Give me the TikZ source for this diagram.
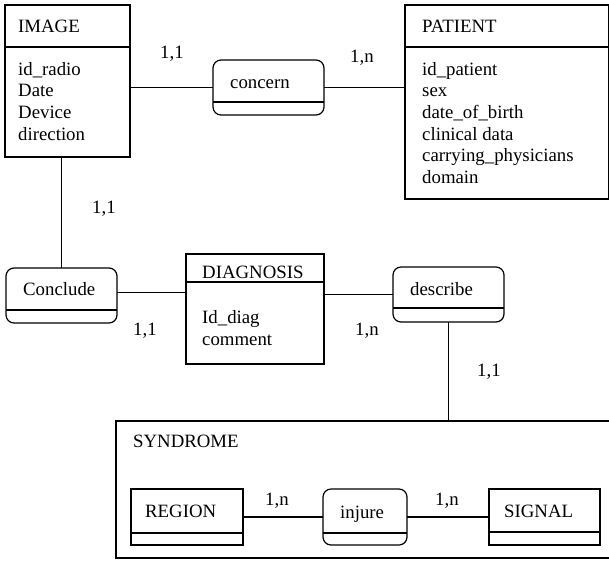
\documentclass[tikz,border=0pt]{standalone}
\usepackage{fontspec}
\setmainfont{Liberation Serif}
\begin{document}
\begin{tikzpicture}[x=1pt,y=-1pt,
  ent/.style={draw, line width=1.2pt, inner sep=0pt, outer sep=0pt, anchor=north west},
  rel/.style={draw, line width=1.2pt, rounded corners=8pt, inner sep=0pt, outer sep=0pt, anchor=north west},
  link/.style={line width=1.1pt},
  divider/.style={line width=1.2pt},
  txt/.style={anchor=base west, inner sep=0pt, font=\fontsize{18.8}{21.7}\selectfont},
]
\useasboundingbox (0,0) rectangle (609,560);

% entity and relationship boxes
\node[ent, minimum width=125pt, minimum height=152pt] (image) at (5,5) {};
\node[ent, minimum width=203.5pt, minimum height=194pt] (patient) at (405,5) {};
\node[rel, minimum width=111pt, minimum height=55pt] (concern) at (213,60) {};
\node[rel, minimum width=111pt, minimum height=55pt] (conclude) at (6,268) {};
\node[ent, minimum width=138pt, minimum height=110pt] (diag) at (186,254) {};
\node[rel, minimum width=111pt, minimum height=55pt] (describe) at (393,267) {};
\node[ent, minimum width=500pt, minimum height=137pt] (syn) at (116,421) {};
\node[ent, minimum width=112pt, minimum height=56pt] (region) at (131,489) {};
\node[rel, minimum width=84pt, minimum height=56pt] (injure) at (323,489) {};
\node[ent, minimum width=111pt, minimum height=56pt] (signal) at (489,489) {};

% dividers
\draw[divider] (image.west |- 0,47) -- (image.east |- 0,47);
\draw[divider] (patient.west |- 0,47) -- (patient.east |- 0,47);
\draw[divider] (concern.west |- 0,102) -- (concern.east |- 0,102);
\draw[divider] (conclude.west |- 0,310) -- (conclude.east |- 0,310);
\draw[divider] (diag.west |- 0,282) -- (diag.east |- 0,282);
\draw[divider] (describe.west |- 0,308) -- (describe.east |- 0,308);
\draw[divider] (region.west |- 0,533) -- (region.east |- 0,533);
\draw[divider] (injure.west |- 0,533) -- (injure.east |- 0,533);
\draw[divider] (signal.west |- 0,532) -- (signal.east |- 0,532);

% connectors
\draw[link] (image.east |- concern.west) -- (concern.west);
\draw[link] (concern.east) -- (concern.east -| patient.west);
\draw[link] (image.south -| conclude.north) -- (conclude.north);
\draw[link] ([yshift=3pt]conclude.east) -- ([yshift=3pt]conclude.east -| diag.west);
\draw[link] (diag.east |- describe.west) -- (describe.west);
\draw[link] (describe.south) -- (describe.south |- syn.north);
\draw[link] (region.east) -- (injure.west);
\draw[link] (injure.east) -- (signal.west);

% texts
\node[txt] (t-image) at (18,32) {IMAGE};
\node[txt] (t-img1) at (18,75) {id\_radio};
\node[txt] (t-img2) at (18,96.7) {Date};
\node[txt] (t-img3) at (18,118.4) {Device};
\node[txt] (t-img4) at (18,140.1) {direction};

\node[txt] (t-patient) at (422,32) {PATIENT};
\node[txt] (t-pat1) at (422,75) {id\_patient};
\node[txt] (t-pat2) at (422,96.7) {sex};
\node[txt] (t-pat3) at (422,118.4) {date\_of\_birth};
\node[txt] (t-pat4) at (422,140.1) {clinical data};
\node[txt] (t-pat5) at (422,161.8) {carrying\_physicians};
\node[txt] (t-pat6) at (422,183.5) {domain};

\node[txt] (t-concern) at (230,88) {concern};
\node[txt] (t-conclude) at (23,295) {Conclude};
\node[txt] (t-diag) at (202,278) {DIAGNOSIS};
\node[txt] (t-diag1) at (202,323) {Id\_diag};
\node[txt] (t-diag2) at (202,345) {comment};
\node[txt] (t-describe) at (410,295) {describe};
\node[txt] (t-syn) at (133,447) {SYNDROME};
\node[txt] (t-region) at (145,517) {REGION};
\node[txt] (t-injure) at (340,518) {injure};
\node[txt] (t-signal) at (504,517) {SIGNAL};

% cardinalities
\node[txt] (c1) at (160,58) {1,1};
\node[txt] (c2) at (350,62) {1,n};
\node[txt] (c3) at (92,213) {1,1};
\node[txt] (c4) at (133,335) {1,1};
\node[txt] (c5) at (355,335) {1,n};
\node[txt] (c6) at (477,376) {1,1};
\node[txt] (c7) at (265,505) {1,n};
\node[txt] (c8) at (435,505) {1,n};
\end{tikzpicture}
\end{document}
